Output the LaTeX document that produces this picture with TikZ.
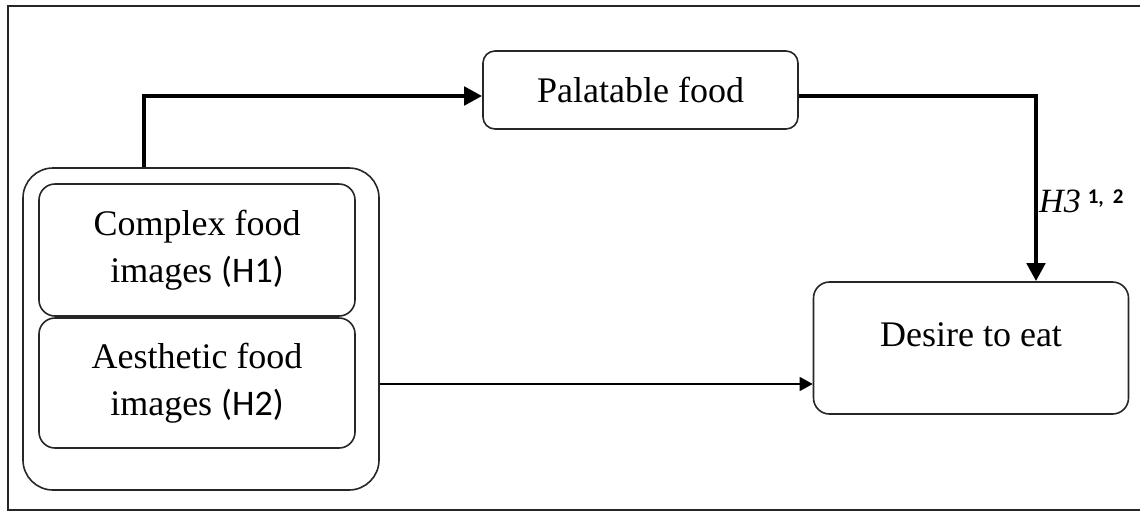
\documentclass[tikz,border=0pt]{standalone}
\usepackage{fontspec}
\setmainfont{Liberation Serif}
\setsansfont{Carlito}
\usetikzlibrary{arrows.meta,calc}
\begin{document}
\begin{tikzpicture}[x=1pt,y=-1pt,
  every node/.style={font=\fontsize{36}{47}\selectfont},
  box/.style={draw=black!85, line width=1.6pt, rectangle, align=center, inner sep=0pt},
  thickarrow/.style={line width=4.5pt, -{Triangle[length=18pt,width=18pt]}},
  thinarrow/.style={line width=1.3pt, -{Triangle[length=13pt,width=14pt]}}
]
\useasboundingbox (0,0) rectangle (1140,512);
\draw[line width=2pt, draw=black!85] (8,6) rectangle (1160,510);

\node[box, rounded corners=30pt, minimum width=356pt, minimum height=322pt] (outer) at (201,329) {};
\node[box, rounded corners=16pt, minimum width=316pt, minimum height=132pt] (cfi) at (197,250)
  {Complex food\\images {\sffamily(H1)}};
\node[box, rounded corners=16pt, minimum width=316pt, minimum height=130pt] (afi) at (197,383)
  {Aesthetic food\\images {\sffamily(H2)}};
\node[box, rounded corners=12pt, minimum width=315pt, minimum height=78pt] (pal) at (640.5,90)
  {Palatable food};
\node[box, rounded corners=16pt, minimum width=315pt, minimum height=132pt, text depth=27pt] (des) at (971,348)
  {Desire to eat};

\coordinate (a1) at (144,96);
\coordinate (a2) at (1036,96);
\coordinate (a3) at (0,384);

\draw[thickarrow] (outer.north -| a1) -- (a1) -- (pal.west |- a1);
\draw[thickarrow] (pal.east |- a2) -- (a2) -- (des.north -| a2);
\draw[thinarrow] (outer.east |- a3) -- (des.west |- a3);

\node[anchor=base west, inner sep=0pt, font=\fontsize{34}{38}\selectfont] (h3) at (1039,212)
  {\itshape H3\hspace{7pt}\raisebox{9pt}{\upshape\sffamily\bfseries\fontsize{21}{22}\selectfont 1\raisebox{-1pt}{,}\hspace{9pt}2}};
\end{tikzpicture}
\end{document}
